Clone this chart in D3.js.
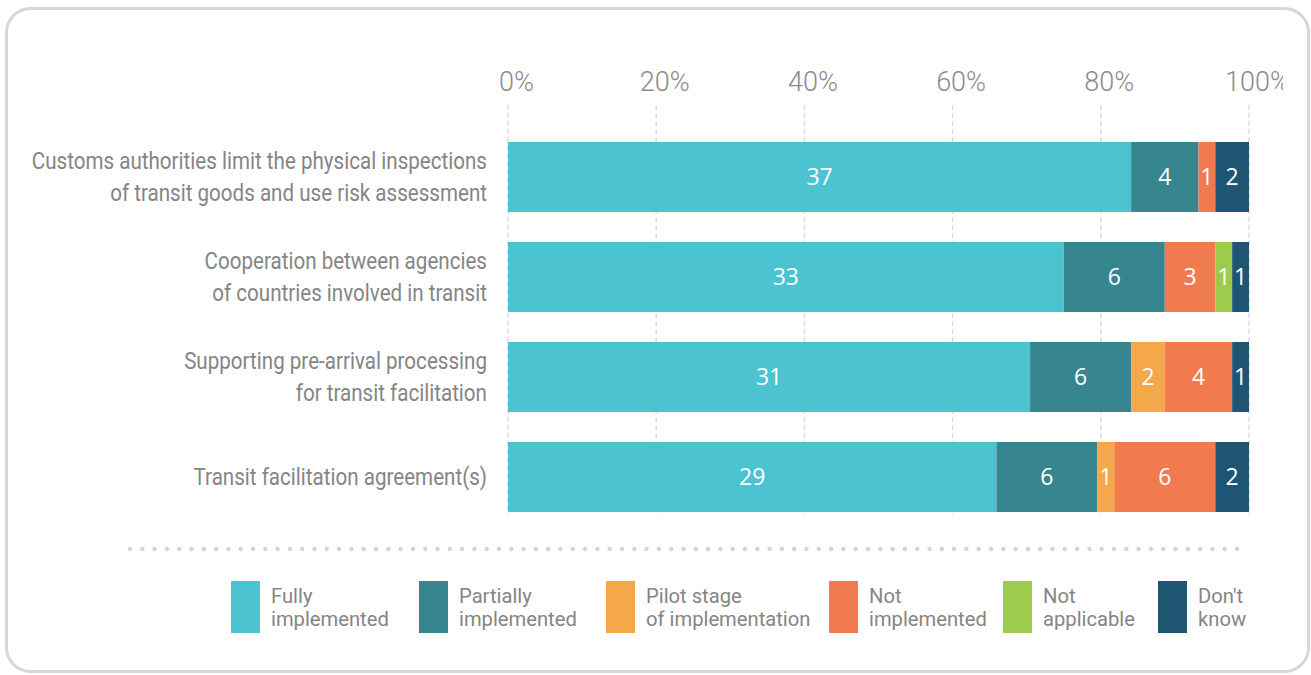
<!DOCTYPE html>
<html>
<head>
<meta charset="utf-8">
<script src="https://cdn.jsdelivr.net/npm/d3@7"></script>
<style>
  html, body { margin: 0; padding: 0; background: #fff; }
  svg { display: block; }
</style>
</head>
<body>
<svg id="chart" width="1311" height="675"></svg>
<script>
// Survey results: number of countries per implementation status
const categories = [
  ["Customs authorities limit the physical inspections", "of transit goods and use risk assessment"],
  ["Cooperation between agencies", "of countries involved in transit"],
  ["Supporting pre-arrival processing", "for transit facilitation"],
  ["Transit facilitation agreement(s)"]
];
const seriesNames = [
  ["Fully", "implemented"],
  ["Partially", "implemented"],
  ["Pilot stage", "of implementation"],
  ["Not", "implemented"],
  ["Not", "applicable"],
  ["Don't", "know"]
];
const fully         = [37, 33, 31, 29];
const partially     = [4, 6, 6, 6];
const pilot         = [0, 0, 2, 1];
const notImpl       = [1, 3, 4, 6];
const notApplicable = [0, 1, 0, 0];
const dontKnow      = [2, 1, 1, 2];
const tickValues = [0, 0.2, 0.4, 0.6, 0.8, 1];
const tickLabels = ["0%", "20%", "40%", "60%", "80%", "100%"];
const colors = ["#4BC3D1", "#37868F", "#F4A84A", "#F27A4F", "#9DCB4B", "#1E5573"];

const series = [fully, partially, pilot, notImpl, notApplicable, dontKnow];

const svg = d3.select("#chart");

// Rounded frame
svg.append("rect")
  .attr("x", 6.5).attr("y", 8.5)
  .attr("width", 1302).attr("height", 663)
  .attr("rx", 24).attr("ry", 24)
  .attr("fill", "#fff")
  .attr("stroke", "#d7d7d7")
  .attr("stroke-width", 3);

const x = d3.scaleLinear().domain([0, 1]).range([508, 1249]);
const rowIdx = d3.range(categories.length);
const y = d3.scaleBand().domain(rowIdx).range([127, 527])
  .paddingInner(0.3).paddingOuter(0.15);

// Clip for the top axis labels (right edge of the last label is cut)
const defs = svg.append("defs");
defs.append("clipPath").attr("id", "axisClip")
  .append("rect").attr("x", 0).attr("y", -100).attr("width", 1275).attr("height", 200);

// Dashed vertical gridlines
svg.append("g").selectAll("line")
  .data(tickValues)
  .join("line")
  .attr("x1", d => x(d)).attr("x2", d => x(d))
  .attr("y1", 105).attr("y2", 514)
  .attr("stroke", "#dcdcdc")
  .attr("stroke-width", 1.5)
  .attr("stroke-dasharray", "5 3");

// Top axis labels
const axis = d3.axisTop(x).tickValues(tickValues)
  .tickFormat((d, i) => tickLabels[i]).tickSize(0).tickPadding(0);
const axisG = svg.append("g")
  .attr("transform", "translate(8,91)")
  .attr("clip-path", "url(#axisClip)")
  .call(axis);
axisG.select(".domain").remove();
axisG.selectAll("text")
  .attr("font-family", "Roboto")
  .attr("font-weight", 300)
  .attr("font-size", 27)
  .attr("fill", "#8a8a8a");

// Stacked segments (share of total per row)
const totals = rowIdx.map(i => d3.sum(series, s => s[i]));
const segments = [];
rowIdx.forEach(i => {
  let acc = 0;
  series.forEach((s, k) => {
    const v = s[i];
    if (v > 0) {
      segments.push({ row: i, k, v, x0: acc / totals[i], x1: (acc + v) / totals[i] });
    }
    acc += v;
  });
});

const bars = svg.append("g");
bars.selectAll("rect")
  .data(segments)
  .join("rect")
  .attr("x", d => x(d.x0))
  .attr("width", d => x(d.x1) - x(d.x0))
  .attr("y", d => y(d.row))
  .attr("height", y.bandwidth())
  .attr("fill", d => colors[d.k]);

bars.selectAll("text")
  .data(segments)
  .join("text")
  .attr("x", d => (x(d.x0) + x(d.x1)) / 2)
  .attr("y", d => y(d.row) + y.bandwidth() / 2)
  .attr("dy", "0.36em")
  .attr("text-anchor", "middle")
  .attr("font-family", "Open Sans")
  .attr("font-size", 23)
  .attr("fill", "#fff")
  .text(d => d.v);

// Row labels, right aligned and condensed
const labelG = svg.append("g");
const lineGap = 32;
const condense = 0.895;
categories.forEach((lines, i) => {
  const cy = y(i) + y.bandwidth() / 2;
  lines.forEach((ln, j) => {
    const ty = cy + (j - (lines.length - 1) / 2) * lineGap;
    const t = labelG.append("text")
      .attr("x", 487)
      .attr("y", ty)
      .attr("dy", "0.36em")
      .attr("text-anchor", "end")
      .attr("font-family", "Roboto")
      .attr("font-size", 23)
      .attr("fill", "#858585")
      .text(ln);
    const w = t.node().getComputedTextLength();
    t.attr("textLength", w * condense).attr("lengthAdjust", "spacingAndGlyphs");
  });
});

// Dotted separator
svg.append("line")
  .attr("x1", 130).attr("x2", 1246)
  .attr("y1", 549).attr("y2", 549)
  .attr("stroke", "#d5d5d5")
  .attr("stroke-width", 4.5)
  .attr("stroke-linecap", "round")
  .attr("stroke-dasharray", "0 12.3");

// Legend
const legendX = [231, 419, 606, 829, 1003, 1158];
const legend = svg.append("g");
seriesNames.forEach((name, k) => {
  const g = legend.append("g").attr("transform", `translate(${legendX[k]},581)`);
  g.append("rect").attr("width", 29).attr("height", 52).attr("fill", colors[k]);
  name.forEach((ln, j) => {
    g.append("text")
      .attr("x", 40)
      .attr("y", 22 + j * 23)
      .attr("font-family", "Roboto")
      .attr("font-size", 20.2)
      .attr("fill", "#858585")
      .text(ln);
  });
});
</script>
</body>
</html>
